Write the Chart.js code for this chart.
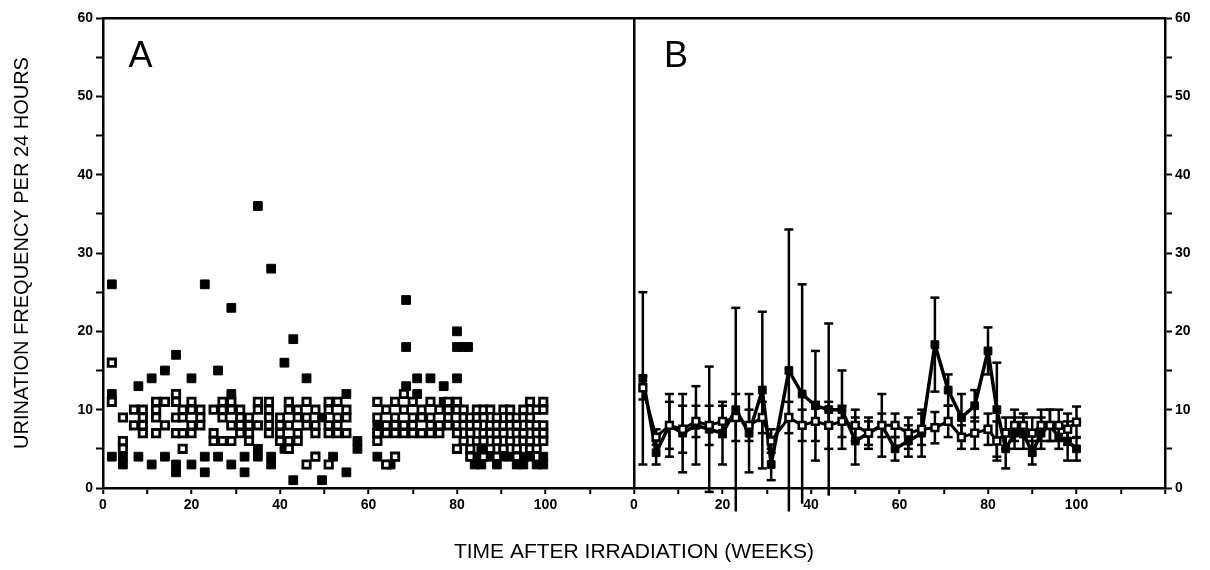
<!DOCTYPE html>
<html>
<head>
<meta charset="utf-8">
<script src="https://cdn.jsdelivr.net/npm/chart.js@4.4.1/dist/chart.umd.min.js"></script>
<style>
  html, body { margin: 0; padding: 0; background: #fff; }
  #wrap { width: 1210px; height: 570px; }
</style>
</head>
<body>
<div id="wrap"><canvas id="chart" width="1210" height="570"></canvas></div>
<script>
// panel A : individual values (weeks / values at that week)
const aOpenWeeks = [2, 4.5, 7, 9, 12, 14, 16.5, 18, 20, 22, 25, 27, 29, 31, 33, 35, 37.5, 40, 42, 44,
  46, 48, 51, 53, 55, 62, 64, 66, 68, 70, 72, 74, 76, 78, 80, 81.5, 83, 84.5, 86, 87.5,
  89, 90.5, 92, 93.5, 95, 96.5, 98, 99.5];
const aOpenVals = [[16, 11], [9, 6, 5], [10, 8], [10, 9, 8, 7], [11, 10, 9, 7], [11, 8], [12, 11, 9, 7], [10, 9, 7, 5], [11, 10, 8, 7], [10, 9, 8],
  [10, 7, 6], [11, 10, 9, 6], [11, 10, 8, 6], [10, 9, 8, 7], [9, 8, 7, 6], [11, 10, 8], [11, 10, 9, 8, 7], [9, 8, 7, 6], [11, 10, 8, 6, 5], [10, 9, 7, 6],
  [11, 9, 8, 3], [10, 8, 7, 4], [11, 10, 8, 7, 3], [11, 9, 8, 7], [10, 9, 7], [11, 9, 7, 6], [10, 8, 7, 3], [11, 9, 8, 7, 4], [12, 10, 8, 7], [11, 9, 8, 7],
  [10, 9, 7], [11, 9, 8, 7], [10, 8, 7], [11, 10, 9, 8], [11, 10, 8, 7, 5], [10, 9, 8, 6], [9, 8, 7, 5, 4], [10, 9, 8, 6], [10, 9, 7, 6, 4], [10, 8, 7, 5],
  [9, 8, 7, 6, 4], [10, 8, 7, 5], [10, 9, 8, 6], [9, 8, 7, 5, 4], [10, 9, 7, 6], [11, 9, 8, 6, 5], [10, 8, 7, 5], [11, 10, 8, 7, 6]];

const aFilledWeeks = [2, 4.5, 8, 11, 14, 16.5, 20, 23, 26, 29, 32, 35, 38, 41, 43, 46, 49.5, 52, 55, 57.5,
  62, 65, 68.5, 71, 74, 77, 80, 81.5, 82.5, 84, 85.5, 87, 89, 90.5, 92, 93.5, 95, 96.5, 98, 99.5];
const aFilledVals = [[26, 12, 4], [4, 3], [13, 4], [14, 3], [15, 4], [17, 3, 2], [14, 3], [26, 4, 2], [15, 4], [23, 12, 3],
  [4, 2], [36, 5, 4], [28, 4, 3], [16, 5], [19, 1], [14], [9, 1], [4], [12, 2], [6, 5],
  [8, 7, 4], [3], [24, 18, 13], [14, 12], [14], [13, 11], [20, 18, 14], [18], [18], [4, 3],
  [5, 3], [4], [3], [5, 4], [4], [3], [4, 3], [5, 4], [3], [4, 3]];

// panel B : means +/- SD
const bWeeks = [2, 5, 8, 11, 14, 17, 20, 23, 26, 29, 31, 35, 38, 41, 44, 47, 50, 53, 56, 59,
  62, 65, 68, 71, 74, 77, 80, 82, 84, 86, 88, 90, 92, 94, 96, 98, 100];
const bFilledMean = [14, 4.5, 8, 7, 8, 7.5, 7, 10, 7, 12.5, 3, 15, 12, 10.5, 10, 10, 6, 7, 8, 5,
  6, 7, 18.3, 12.5, 9, 10.5, 17.5, 10, 5, 7, 7, 4.5, 7, 8, 6.5, 6, 5];
const bFilledSD = [11, 1.5, 4, 5, 5, 8, 4, 13, 5, 10, 2, 18, 14, 7, 11, 5, 3, 2, 4, 1.5,
  2, 3, 6, 2, 3, 2, 3, 6, 2.5, 2, 2, 1.5, 2, 2, 1.5, 2.5, 1.5];
const bOpenMean = [12.8, 6.5, 8, 7.5, 8.5, 8, 8.5, 9, 8, 9, 6, 9, 8, 8.5, 8, 8.5, 8, 7, 8, 8,
  7, 7.5, 7.7, 8.5, 6.5, 7, 7.5, 6, 7, 8, 8, 7, 8, 8, 8, 7.5, 8.4];
const bOpenSD = [1.5, 1, 3, 3, 2, 2.5, 2, 3, 2, 2, 1.5, 2, 2, 2.5, 3, 2, 2, 1.5, 1.5, 1.5,
  2, 2, 2, 2, 1.5, 2, 2, 2.5, 2, 2, 1.5, 2, 2, 2, 2, 2, 2];

const yTicks = [0, 10, 20, 30, 40, 50, 60];
const panelLabels = ['A', 'B'];

// panel B sits on the same x scale, shifted by 120 weeks
const B_OFFSET = 120;

function flatten(weeks, vals, off) {
  const out = [];
  weeks.forEach((w, i) => vals[i].forEach(v => out.push({ x: w + off, y: v })));
  return out;
}
function meanPts(weeks, means) {
  return weeks.map((w, i) => ({ x: w + B_OFFSET, y: means[i] }));
}
function errPts(weeks, means, sds) {
  const out = [];
  weeks.forEach((w, i) => {
    out.push({ x: w + B_OFFSET, y: means[i] - sds[i] });
    out.push({ x: w + B_OFFSET, y: means[i] + sds[i] });
    out.push({ x: w + B_OFFSET, y: null });
  });
  return out;
}

const FONT = '"Liberation Sans", Arial, Helvetica, sans-serif';

const panelLetters = {
  id: 'panelLetters',
  afterDatasetsDraw(chart) {
    const { ctx, scales } = chart;
    ctx.save();
    ctx.font = '36px ' + FONT;
    ctx.fillStyle = '#000';
    ctx.textAlign = 'center';
    ctx.textBaseline = 'middle';
    ctx.fillText(panelLabels[0], scales.x.getPixelForValue(8.5), scales.y.getPixelForValue(55));
    ctx.fillText(panelLabels[1], scales.x.getPixelForValue(B_OFFSET + 9.5), scales.y.getPixelForValue(55));
    ctx.restore();
  }
};

const tickFont = { family: FONT, size: 14, weight: 'bold' };

const ctx = document.getElementById('chart').getContext('2d');

new Chart(ctx, {
  type: 'scatter',
  data: {
    datasets: [
      {
        data: flatten(aFilledWeeks, aFilledVals, 0),
        pointStyle: 'rect', pointRadius: 6.2, borderWidth: 1,
        backgroundColor: '#000', borderColor: '#000', order: 2
      },
      {
        data: flatten(aOpenWeeks, aOpenVals, 0),
        pointStyle: 'rect', pointRadius: 5.2, borderWidth: 2.8,
        backgroundColor: '#fff', borderColor: '#000', order: 1
      },
      {
        data: errPts(bWeeks, bFilledMean, bFilledSD),
        showLine: true, spanGaps: false, clip: false,
        borderColor: '#000', borderWidth: 2.5,
        pointStyle: 'line', pointRadius: 4.5, pointBorderWidth: 2.5, order: 5
      },
      {
        data: errPts(bWeeks, bOpenMean, bOpenSD),
        showLine: true, spanGaps: false, clip: false,
        borderColor: '#000', borderWidth: 2.5,
        pointStyle: 'line', pointRadius: 4.5, pointBorderWidth: 2.5, order: 4
      },
      {
        data: meanPts(bWeeks, bFilledMean),
        showLine: true, borderColor: '#000', borderWidth: 3.5,
        pointStyle: 'rect', pointRadius: 5.5, pointBorderWidth: 1,
        backgroundColor: '#000', order: 3
      },
      {
        data: meanPts(bWeeks, bOpenMean),
        showLine: true, borderColor: '#000', borderWidth: 3,
        pointStyle: 'rect', pointRadius: 4.8, pointBorderWidth: 2.5,
        backgroundColor: '#fff', order: 1
      }
    ]
  },
  options: {
    responsive: false,
    animation: false,
    layout: { padding: { top: 18, left: 0, right: 0, bottom: 0 } },
    plugins: { legend: { display: false }, tooltip: { enabled: false } },
    scales: {
      x: {
        type: 'linear', position: 'bottom', min: 0, max: 240,
        ticks: {
          stepSize: 10, autoSkip: false, maxRotation: 0, padding: 3, color: '#000',
          font: tickFont,
          callback: v => {
            if (v <= 100) return v % 20 === 0 ? String(v) : '';
            if (v >= B_OFFSET && v <= B_OFFSET + 100) return (v - B_OFFSET) % 20 === 0 ? String(v - B_OFFSET) : '';
            return '';
          }
        },
        grid: {
          drawOnChartArea: true,
          color: c => (c.tick && c.tick.value === B_OFFSET) ? '#000' : 'rgba(0,0,0,0)',
          lineWidth: 2.5,
          tickColor: '#000', tickLength: 6, tickWidth: 2
        },
        border: { color: '#000', width: 2.5 },
        title: {
          display: true, text: 'TIME AFTER IRRADIATION (WEEKS)', color: '#000',
          font: { family: FONT, size: 21 }, padding: { top: 0, bottom: 5 }
        },
        afterFit: s => { s.height = 82; }
      },
      xTop: {
        type: 'linear', position: 'top', min: 0, max: 240,
        ticks: { display: false },
        grid: { display: false, drawTicks: false },
        border: { color: '#000', width: 2.5 },
        afterFit: s => { s.height = 0; }
      },
      y: {
        position: 'left', min: 0, max: 60,
        ticks: {
          stepSize: 5, padding: 3, color: '#000',
          font: tickFont,
          callback: v => yTicks.includes(v) ? String(v) : ''
        },
        grid: { drawOnChartArea: false, tickColor: '#000', tickLength: 7, tickWidth: 2 },
        border: { color: '#000', width: 2.5 },
        title: {
          display: true, text: 'URINATION FREQUENCY PER 24 HOURS', color: '#000',
          font: { family: FONT, size: 20 }, padding: { top: 10, bottom: 0 }
        },
        afterFit: s => { s.width = 103; }
      },
      y2: {
        position: 'right', min: 0, max: 60,
        ticks: {
          stepSize: 5, padding: 3, color: '#000',
          font: tickFont,
          callback: v => yTicks.includes(v) ? String(v) : ''
        },
        grid: { drawOnChartArea: false, tickColor: '#000', tickLength: 7, tickWidth: 2 },
        border: { color: '#000', width: 2.5 },
        afterFit: s => { s.width = 45; }
      }
    }
  },
  plugins: [panelLetters]
});
</script>
</body>
</html>
